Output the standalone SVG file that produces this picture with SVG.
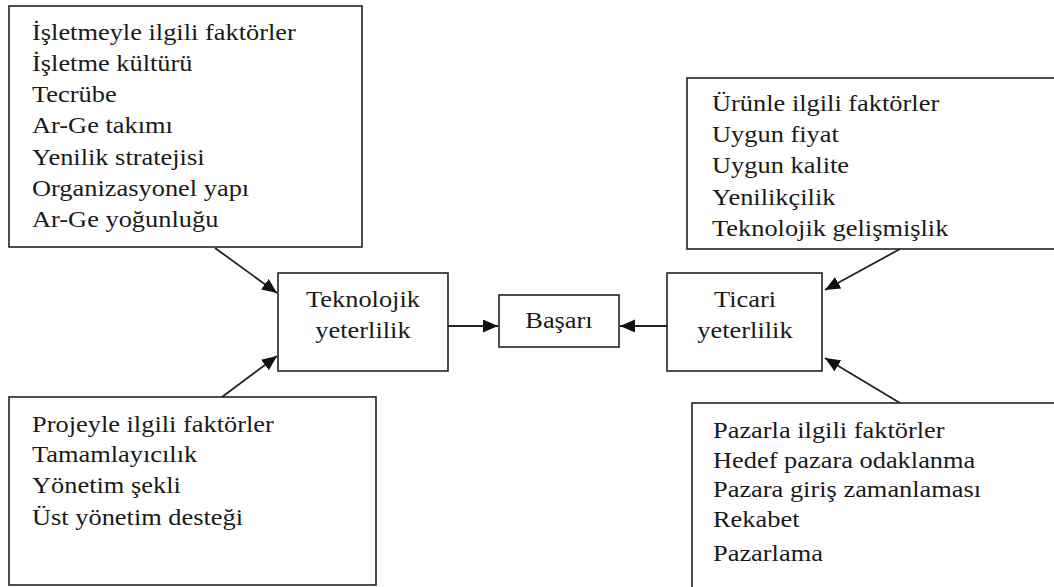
<svg xmlns="http://www.w3.org/2000/svg" width="1054" height="587" viewBox="0 0 1054 587">
<style>
.box{fill:#fff;stroke:#222;stroke-width:1.6}
text{font-family:'Liberation Serif','Times New Roman',serif;font-size:24px;fill:#1a1a1a}
.c{text-anchor:middle}
.conn{stroke:#222;stroke-width:1.8;fill:none;marker-end:url(#ah)}
</style>
<defs>
<marker id="ah" markerUnits="userSpaceOnUse" markerWidth="16" markerHeight="14" refX="15" refY="6.5" orient="auto">
<path d="M0,0 L15,6.5 L0,13 z" fill="#111"/>
</marker>
</defs>
<rect width="1054" height="587" fill="#fff"/>
<g id="connectors">
<line class="conn" x1="215" y1="248" x2="277" y2="293"/>
<line class="conn" x1="222" y1="397" x2="277" y2="356"/>
<line class="conn" x1="900" y1="249" x2="825" y2="290"/>
<line class="conn" x1="900" y1="403" x2="825" y2="358"/>
<line class="conn" x1="448" y1="326" x2="498" y2="326"/>
<line class="conn" x1="667" y1="326" x2="620" y2="326"/>
</g>
<g id="isletme" font-family="Liberation Serif, serif">
<rect class="box" x="9" y="6" width="353" height="241"/>
<g transform="translate(32,0) scale(1.1,1)">
<text x="0" y="40">İşletmeyle ilgili faktörler</text>
<text x="0" y="71">İşletme kültürü</text>
<text x="0" y="102">Tecrübe</text>
<text x="0" y="133">Ar-Ge takımı</text>
<text x="0" y="165">Yenilik stratejisi</text>
<text x="0" y="196">Organizasyonel yapı</text>
<text x="0" y="227">Ar-Ge yoğunluğu</text>
</g>
</g>
<g id="proje">
<rect class="box" x="9" y="397" width="367" height="188"/>
<g transform="translate(32,0) scale(1.1,1)">
<text x="0" y="432">Projeyle ilgili faktörler</text>
<text x="0" y="462">Tamamlayıcılık</text>
<text x="0" y="493">Yönetim şekli</text>
<text x="0" y="525">Üst yönetim desteği</text>
</g>
</g>
<g id="teknolojik">
<rect class="box" x="278" y="273" width="170" height="98"/>
<g transform="translate(363,0) scale(1.1,1)">
<text class="c" x="0" y="307">Teknolojik</text>
<text class="c" x="0" y="338">yeterlilik</text>
</g>
</g>
<g id="basari">
<rect class="box" x="499" y="295" width="120" height="52"/>
<g transform="translate(559,0) scale(1.1,1)">
<text class="c" x="0" y="328">Başarı</text>
</g>
</g>
<g id="ticari">
<rect class="box" x="667" y="273" width="155" height="98"/>
<g transform="translate(745,0) scale(1.1,1)">
<text class="c" x="0" y="307">Ticari</text>
<text class="c" x="0" y="338">yeterlilik</text>
</g>
</g>
<g id="urun">
<rect class="box" x="687" y="78" width="380" height="171"/>
<g transform="translate(712,0) scale(1.1,1)">
<text x="0" y="111">Ürünle ilgili faktörler</text>
<text x="0" y="142">Uygun fiyat</text>
<text x="0" y="173">Uygun kalite</text>
<text x="0" y="205">Yenilikçilik</text>
<text x="0" y="236">Teknolojik gelişmişlik</text>
</g>
</g>
<g id="pazar">
<rect class="box" x="692" y="403" width="380" height="200"/>
<g transform="translate(713,0) scale(1.1,1)">
<text x="0" y="438">Pazarla ilgili faktörler</text>
<text x="0" y="468">Hedef pazara odaklanma</text>
<text x="0" y="497">Pazara giriş zamanlaması</text>
<text x="0" y="527">Rekabet</text>
<text x="0" y="561">Pazarlama</text>
</g>
</g>
</svg>
